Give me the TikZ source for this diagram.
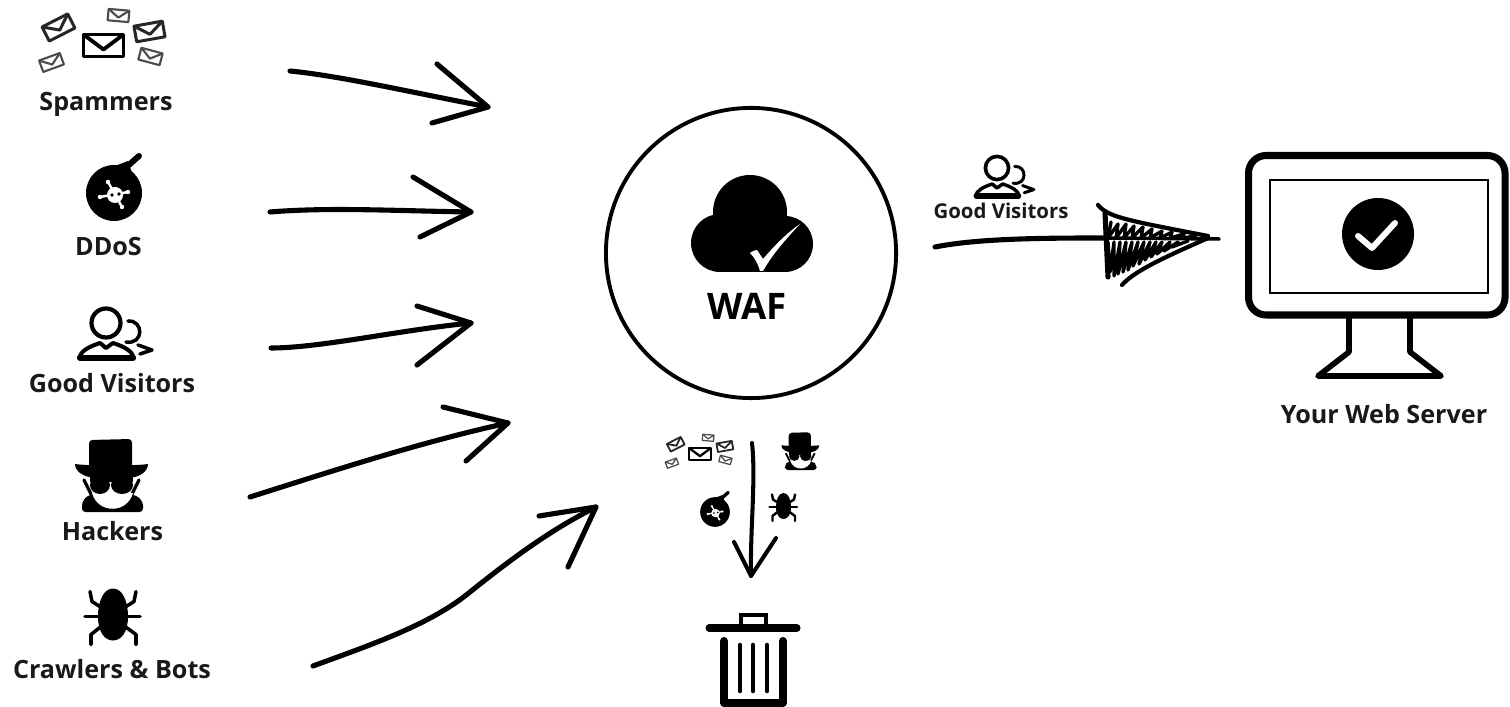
\documentclass[tikz,border=0pt]{standalone}
\usepackage{fontspec}
\setmainfont{Open Sans}
\usetikzlibrary{positioning}

\tikzstyle{iconlabel} = [anchor=base,inner sep=0,font=\fontsize{7.15}{8}\selectfont\bfseries,text=black!90]
\tikzstyle{sketch} = [draw=black,line width=1.45pt,line cap=round,line join=round]
\tikzstyle{scribble} = [draw=black,line width=0.95pt,line cap=round,line join=round]

\tikzset{
pics/envelope/.style={code={
  \draw[line width=#1pt,line join=round,fill=white] (-20,-11) rectangle (20,11);
  \draw[line width=#1pt,line join=round] (-20,-11) -- (0,4) -- (20,-11);
}},
pics/spam/.style={code={
  \pic[transform shape] at (0,0) {envelope=#1*1.1};
  \pic[transform shape,scale=.72,rotate=27,black!85] at (-45,-18) {envelope=#1*0.85};
  \pic[transform shape,scale=.52,rotate=-5,black!70] at (15,-30) {envelope=#1*0.6};
  \pic[transform shape,scale=.72,rotate=10,black!85] at (46,-14) {envelope=#1*0.85};
  \pic[transform shape,scale=.55,rotate=-15,black!70] at (47,11) {envelope=#1*0.6};
  \pic[transform shape,scale=.55,rotate=20,black!70] at (-52,17) {envelope=#1*0.6};
}},
pics/bomb/.style={code={
  \fill (0,0) circle (28);
  \draw[line width=#1*1.7pt,line cap=round] (8,-22) -- (25,-37);
  \fill (1,-27) -- (14,-32) -- (18,-20) -- cycle;
  \draw[white,line width=#1*0.7pt,line cap=round] (-14,4) -- (14,-1);
  \draw[white,line width=#1*0.7pt,line cap=round] (-6,-11) -- (8,14);
  \fill[white] (-14,4) circle (2.2) (14,-1) circle (2.2) (-6,-11) circle (2.2) (8,14) circle (2.2);
  \fill[white] (1,2) circle (8);
  \fill (-2,2) circle (1.8);
  \fill (5,1) circle (1.8);
}},
pics/visitor/.style={code={
  \draw[line width=#1*1.2pt] (0,0) circle (14.5);
  \draw[line width=#1*1.15pt,line join=round,fill=white] (-27,35) .. controls (-25,28) and (-18,24) .. (-6,20) -- (0,25) -- (7,20) .. controls (19,24) and (26,28) .. (28,35) -- cycle;
  \draw[line width=#1*1.7pt,line cap=round] (-26,35) -- (27,35);
  \draw[line width=#1*1pt,line cap=round] (22,-2) .. controls (38,-3) and (38,22) .. (20,19);
  \draw[line width=#1*1pt,line cap=round,line join=round] (32,22) -- (46,27) -- (34,31);
}},
pics/hacker/.style={code={
  \fill[rounded corners=1pt] (-23,-36) -- (20,-37) -- (20,0) -- (-23,0) -- cycle;
  \fill (-37,-12) .. controls (-25,-10) and (25,-10) .. (36,-12) .. controls (36,-3) and (25,2) .. (15,2) -- (-15,2) .. controls (-25,2) and (-37,-3) .. (-37,-12) -- cycle;
  \draw[line width=#1*0.9pt,line cap=round] (-28,4) -- (-20,20);
  \draw[line width=#1*0.9pt,line cap=round] (27,4) -- (19,20);
  \fill[rounded corners=1pt] (-30,36) -- (-30,26) -- (-24,19) -- (24,19) -- (31,26) -- (31,36) -- cycle;
  \fill[white] (-20,17) .. controls (-14,38) and (15,38) .. (21,17) -- cycle;
  \fill (-12,9) ellipse (10 and 9);
  \fill (10,9) ellipse (11 and 9);
  \fill (-22,0) rectangle (21,6);
}},
pics/bug/.style={code={
  \fill (0,-26) .. controls (10,-26) and (15,-12) .. (15,2) .. controls (15,18) and (8,26) .. (0,26) .. controls (-8,26) and (-15,18) .. (-15,2) .. controls (-15,-12) and (-10,-26) .. (0,-26) -- cycle;
  \draw[line width=#1pt,line cap=round,line join=round] (-23,-23) -- (-21,-13) -- (-10,-6);
  \draw[line width=#1pt,line cap=round,line join=round] (23,-23) -- (21,-13) -- (10,-6);
  \draw[line width=#1pt,line cap=round] (-28,2) -- (27,2);
  \draw[line width=#1pt,line cap=round,line join=round] (-22,30) -- (-22,20) -- (-12,12);
  \draw[line width=#1pt,line cap=round,line join=round] (23,30) -- (23,20) -- (12,12);
}}
}

\begin{document}
\begin{tikzpicture}[x=0.01cm,y=-0.01cm]
\useasboundingbox (0,0) rectangle (1510,707);

% SOURCES
\pic at (103.5,45.5) {spam=1};
\node[iconlabel] (spammers) at (106,111) {Spammers};
\pic at (114,193) {bomb=1};
\node[iconlabel] (ddos) at (108.5,256) {DDoS};
\pic at (106,323) {visitor=1};
\node[iconlabel] (visitors) at (112,393) {Good Visitors};
\pic at (112,476) {hacker=1};
\node[iconlabel] (hackers) at (112.5,540) {Hackers};
\pic at (113,614.5) {bug=1};
\node[iconlabel] (crawlers) at (112,678) {Crawlers \& Bots};

% INPUT ARROWS
\coordinate (spam_s) at (290,71);
\coordinate (spam_t) at (488,107);
\coordinate (spam_u) at (437,64);
\coordinate (spam_d) at (432,123);
\draw[sketch] (spam_s) .. controls (340,76) and (400,90) .. (spam_t);
\draw[sketch] (spam_u) -- (spam_t) -- (spam_d);

\coordinate (ddos_s) at (270,212);
\coordinate (ddos_t) at (471,212);
\coordinate (ddos_u) at (413,177);
\coordinate (ddos_d) at (420,237);
\draw[sketch] (ddos_s) .. controls (330,207) and (400,211) .. (ddos_t);
\draw[sketch] (ddos_u) -- (ddos_t) -- (ddos_d);

\coordinate (good_s) at (271,348);
\coordinate (good_t) at (471,323);
\coordinate (good_u) at (417,306);
\coordinate (good_d) at (417,365);
\draw[sketch] (good_s) .. controls (320,348) and (400,330) .. (good_t);
\draw[sketch] (good_u) -- (good_t) -- (good_d);

\coordinate (hack_s) at (250,497);
\coordinate (hack_t) at (508,423);
\coordinate (hack_u) at (443,407);
\coordinate (hack_d) at (466,461);
\draw[sketch] (hack_s) .. controls (320,475) and (420,442) .. (hack_t);
\draw[sketch] (hack_u) -- (hack_t) -- (hack_d);

\coordinate (bots_s) at (313,666);
\coordinate (bots_t) at (596,507);
\coordinate (bots_u) at (539,516);
\coordinate (bots_d) at (568,567);
\draw[sketch] (bots_s) .. controls (370,645) and (430,625) .. (470,592) .. controls (510,560) and (550,530) .. (bots_t);
\draw[sketch] (bots_u) -- (bots_t) -- (bots_d);

% WAF
\node[circle,draw,line width=1.1pt,minimum size=2.9cm,inner sep=0] (waf) at (751,253) {};
\fill (720,243) circle (29);
\fill (750,212) circle (37);
\fill (785,244) circle (28);
\fill (720,230) rectangle (785,272);
\fill[white] (750,253) .. controls (753,251) and (755,250) .. (757,250) -- (763,259) .. controls (775,245) and (788,232) .. (800,224) .. controls (785,240) and (772,255) .. (763,271) -- (760,271) .. controls (758,264) and (755,258) .. (750,253) -- cycle;
\node[anchor=base,inner sep=0,font=\fontsize{10.4}{13}\selectfont\bfseries] (waftext) at (747,320) {WAF};

% DROPPED
\pic[scale=.54] at (700,454) {spam=0.6};
\pic[scale=.52] at (800.5,451.5) {hacker=0.55};
\pic[scale=.53] at (715,512) {bomb=0.55};
\pic[scale=.5] at (783.5,506) {bug=0.7};
\coordinate (drop_s) at (752,443);
\coordinate (drop_t) at (751,576);
\coordinate (drop_u) at (734,542);
\coordinate (drop_d) at (776,538);
\draw[sketch,line width=1.15pt] (drop_s) .. controls (756,480) and (750,530) .. (drop_t);
\draw[sketch,line width=1.15pt] (drop_u) -- (drop_t) -- (drop_d);

% TRASH
\draw[line width=2pt,line cap=round] (709,628) -- (797,628);
\draw[line width=0.9pt] (741,628) -- (741,615) -- (766,615) -- (766,628);
\draw[line width=2.3pt,line cap=round,line join=round] (724,641) -- (724,703) -- (783,703) -- (783,641);
\draw[line width=1.3pt,line cap=round] (740,645) -- (740,691);
\draw[line width=1.3pt,line cap=round] (753,645) -- (753,691);
\draw[line width=1.3pt,line cap=round] (767,645) -- (767,691);

% OUTPUT
\pic[scale=.8] at (997,168) {visitor=0.85};
\node[iconlabel,font=\fontsize{5.8}{7}\selectfont\bfseries] (visitors2) at (1001,219) {Good Visitors};
\coordinate (pass_s) at (935,247);
\coordinate (pass_b) at (1107,238);
\coordinate (pass_t) at (1219,239);
\draw[sketch] (pass_s) .. controls (980,238) and (1050,238) .. (pass_b);
\draw[sketch,line width=1pt] (pass_b) -- (pass_t);
\draw[sketch] (1105,213) -- (1108,277);
\draw[sketch,line width=1.2pt] (1098,205) .. controls (1108,217) and (1125,220) .. (1208,236);
\draw[sketch,line width=1.2pt] (1122,285) .. controls (1135,270) and (1170,255) .. (1208,238);
\draw[scribble] (1111,222) -- (1108,238) -- (1118,224) -- (1116,238) -- (1126,224) -- (1124,238) -- (1134,226) -- (1132,238) -- (1143,227) -- (1141,238) -- (1152,229) -- (1150,238) -- (1162,231) -- (1160,238) -- (1172,232) -- (1170,238) -- (1184,234) -- (1182,238) -- (1196,236);
\draw[scribble] (1108,242) -- (1110,272) -- (1114,242) -- (1114,276) -- (1120,242) -- (1118,274) -- (1126,242) -- (1123,272) -- (1132,242) -- (1128,270) -- (1138,242) -- (1133,266) -- (1144,242) -- (1139,264) -- (1150,242) -- (1145,260) -- (1156,242) -- (1151,257) -- (1162,242) -- (1157,254) -- (1170,242) -- (1164,251) -- (1178,242) -- (1172,247) -- (1188,241);

% SERVER
\draw[line width=2pt,rounded corners=5pt] (1248.5,155.5) rectangle (1505,315);
\draw[line width=0.8pt] (1270,180) rectangle (1488,293);
\fill (1378,234) circle (36);
\draw[white,line width=1.7pt,line cap=round,line join=round] (1358,236) -- (1372,248) -- (1395,223);
\draw[line width=1.6pt,line join=round] (1349,317) -- (1349,352) -- (1318,376) -- (1441,376) -- (1410,352) -- (1410,317);
\node[iconlabel] (server) at (1384,424) {Your Web Server};
\end{tikzpicture}
\end{document}
